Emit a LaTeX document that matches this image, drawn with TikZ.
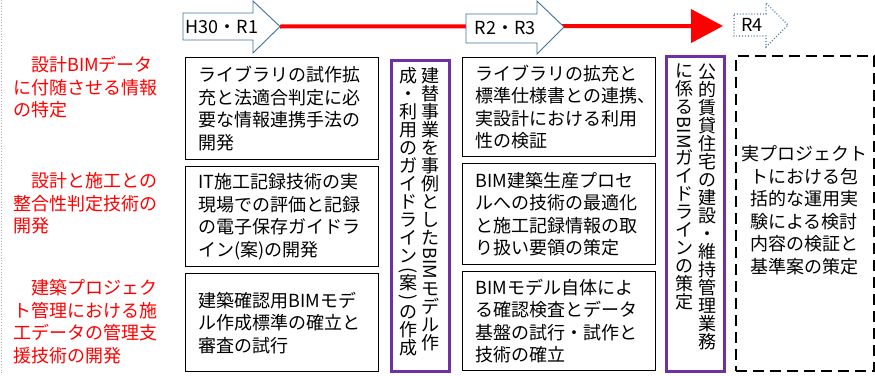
\documentclass[tikz,border=0pt]{standalone}
\usepackage{fontspec}
\usepackage{graphicx}
\setmainfont{Noto Sans CJK JP}
\usetikzlibrary{arrows.meta}
\definecolor{jred}{RGB}{255,0,0}
\definecolor{ablue}{RGB}{65,113,156}
\definecolor{jpurple}{RGB}{112,48,160}
\newcommand\vrot[1]{\rotatebox[origin=c]{-90}{#1}}
\newcommand\vtight{\lineskip=0pt\lineskiplimit=-100pt}
\begin{document}
\begin{tikzpicture}[x=1pt,y=-1pt,
  jp/.style={font=\fontsize{18}{22.5}\selectfont},
  tbox/.style={draw=black, line width=1.3pt, minimum width=193pt, minimum height=#1,
    text width=167pt, inner xsep=13pt, inner ysep=0pt, align=left, anchor=north west, jp},
  pbox/.style={draw=jpurple, line width=2.5pt, minimum width=58pt, minimum height=#1,
    inner sep=0pt, anchor=north west},
  vcol/.style={font={\fontsize{18}{18}\selectfont}, text width=20pt,
    align=center, inner sep=0pt, anchor=north},
  lab/.style={text=jred, align=left, inner sep=0pt, anchor=west, jp},
  harrow/.style={draw=ablue, fill=white, line width=0.9pt, line join=miter},
  atext/.style={inner sep=0pt, jp}]
\useasboundingbox (0,0) rectangle (875,375);
\draw[gray!60, dotted, line width=0.8pt] (1,0) -- (1,375);

% timeline
\coordinate (h30tip) at (280,26.5);
\coordinate (redend) at (723,26);
\draw[jred, line width=4pt, -{Triangle[length=32pt,width=33pt]}] (h30tip) -- (redend);

\draw[harrow] (183,13) -- (253,13) -- (253,1) -- (h30tip) -- (253,53) -- (253,40) -- (183,40) -- cycle;
\node[atext] (t1) at (222,27) {H30・R1};
\draw[harrow] (466,14) -- (537,14) -- (537,1) -- (564,27) -- (537,54) -- (537,43) -- (466,43) -- cycle;
\node[atext] (t2) at (505,28.5) {R2・R3};
\draw[harrow, dotted, line width=1.1pt] (734,14) -- (766,14) -- (766,3) -- (788,25) -- (766,47) -- (766,36) -- (734,36) -- cycle;
\node[atext] (t3) at (752,25) {R4};

% left labels
\node[lab] (l1) at (13,87.5) {\hspace*{1em}設計BIMデータ\\に付随させる情報\\の特定};
\node[lab] (l2) at (13,203.5) {\hspace*{1em}設計と施工との\\整合性判定技術の\\開発};
\node[lab] (l3) at (13,321.5) {\hspace*{1em}建築プロジェク\\ト管理における施\\工データの管理支\\援技術の開発};

% column 1
\node[tbox=102pt] (b11) at (185,57) {ライブラリの試作拡\\充と法適合判定に必\\要な情報連携手法の\\開発};
\node[tbox=100pt] (b12) at (185,166) {IT施工記録技術の実\\現場での評価と記録\\の電子保存ガイドラ\\イン(案)の開発};
\node[tbox=98pt] (b13) at (185,273) {建築確認用BIMモデ\\ル作成標準の確立と\\審査の試行};

% purple box 1
\node[pbox=311pt] (p1) at (390,59) {};
\node[vcol] (v11) at (430,67) {\vtight 建\\替\\事\\業\\を\\事\\例\\と\\し\\た\\[7.5pt]\vrot{BIM}\\[7.5pt]モ\\デ\\ル\\作};
\node[vcol] (v12) at (408,67) {\vtight 成\\・\\利\\用\\の\\ガ\\イ\\ド\\ラ\\イ\\ン\\[-4.5pt]\vrot{(}\\[-4.5pt]案\\[-4.5pt]\vrot{)}\\[-2pt]の\\作\\成};

% column 3
\node[tbox=99pt] (b31) at (462,57) {ライブラリの拡充と\\標準仕様書との連携\makebox[0.5em][l]{、}\\実設計における利用\\性の検証};
\node[tbox=101pt] (b32) at (462,163) {BIM建築生産プロセ\\ルへの技術の最適化\\と施工記録情報の取\\り扱い要領の策定};
\node[tbox=99pt] (b33) at (462,271) {BIMモデル自体によ\\る確認検査とデータ\\基盤の試行・試作と\\技術の確立};

% purple box 2
\node[pbox=315pt] (p2) at (665,55) {};
\node[vcol] (v21) at (707,64) {\vtight 公\\的\\賃\\貸\\住\\宅\\の\\建\\設\\・\\維\\持\\管\\理\\業\\務};
\node[vcol] (v22) at (684,64) {\vtight に\\係\\る\\[7.5pt]\vrot{BIM}\\[7.5pt]ガ\\イ\\ド\\ラ\\イ\\ン\\の\\策\\定};

% dashed box
\node[draw=black, line width=2.4pt, dash pattern=on 11pt off 6pt, minimum width=138pt,
  minimum height=315pt, inner sep=0pt, anchor=north west] (d1) at (735,55) {};
\node[jp, align=center, inner sep=0pt] (dt) at (804,210) {実プロジェクト\\トにおける包\\括的な運用実\\験による検討\\内容の検証と\\基準案の策定};
\end{tikzpicture}
\end{document}
